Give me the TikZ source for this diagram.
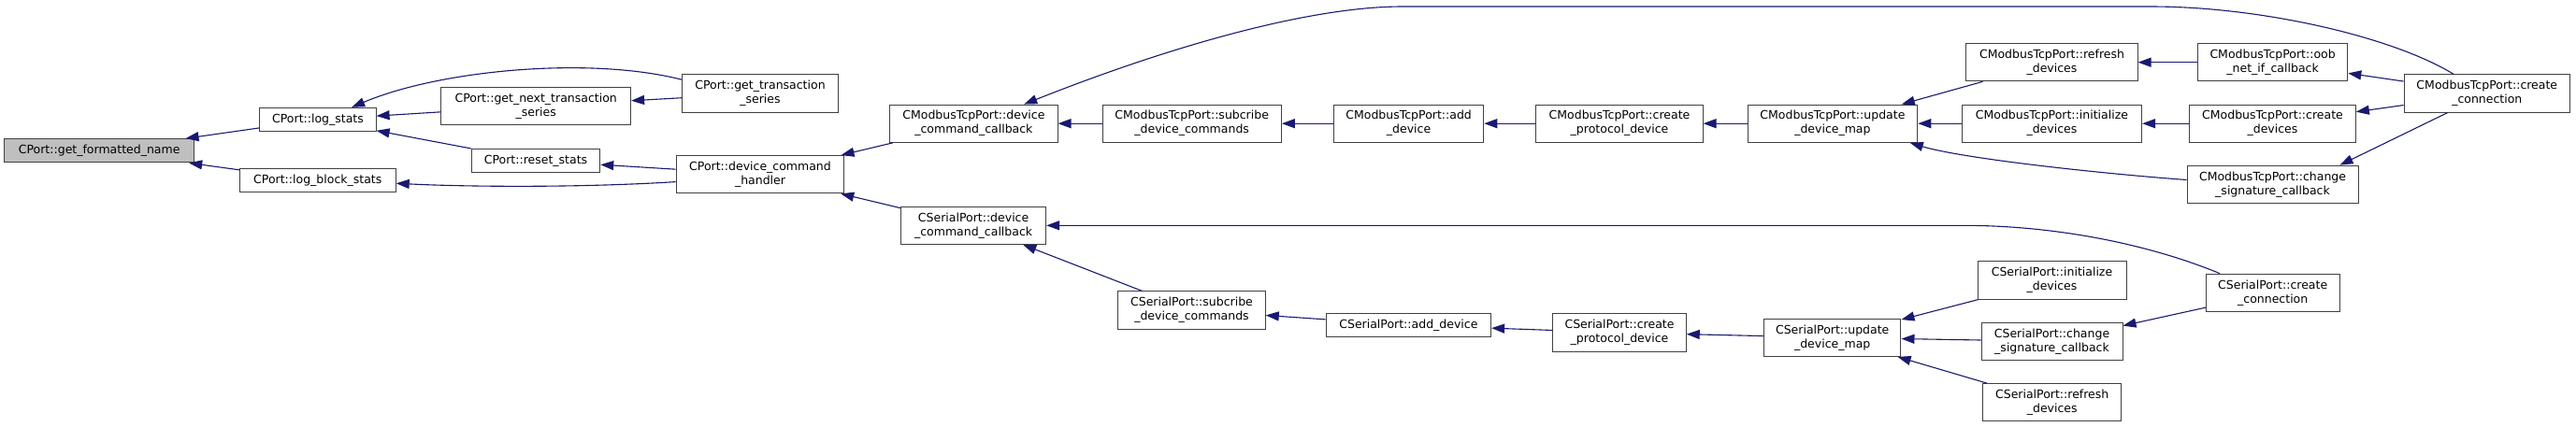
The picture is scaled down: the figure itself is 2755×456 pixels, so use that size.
\documentclass[tikz,border=0pt]{standalone}
\usepackage{fontspec}
\setmainfont{DejaVu Sans}
\usetikzlibrary{arrows.meta}
\definecolor{edgecol}{HTML}{191970}
\definecolor{bordercol}{HTML}{404040}
\definecolor{rootfill}{HTML}{BFBFBF}
\begin{document}
\begin{tikzpicture}[x=1pt,y=-1pt,
  box/.style={draw=bordercol, line width=1pt, fill=white, inner sep=0pt, align=center,
    font=\fontsize{12.5}{15}\selectfont},
  one/.style={box, minimum height=25.3pt},
  two/.style={box, minimum height=40.3pt},
  edge/.style={draw=edgecol, line width=1.1pt, -{Triangle[length=14pt,width=10pt]}}]
\fill[white] (0,0) rectangle (2755,456);
\useasboundingbox (0,0) rectangle (2755,456);

% column 1-3
\node[one, fill=rootfill, minimum width=202.5pt] (gfn) at (106.2,161.3) {CPort::get\_formatted\_name};
\node[one, minimum width=124.2pt] (logstats) at (340,128) {CPort::log\_stats};
\node[one, minimum width=166.8pt] (logblock) at (339.8,193.3) {CPort::log\_block\_stats};
\node[two, minimum width=202.8pt] (getnext) at (573.2,113.5) {CPort::get\_next\_transaction\\\_series};
\node[one, minimum width=137.5pt] (resetstats) at (573,172) {CPort::reset\_stats};
\node[two, minimum width=166.8pt] (gts) at (813,100) {CPort::get\_transaction\\\_series};
\node[two, minimum width=179.7pt] (dch) at (813,186.7) {CPort::device\_command\\\_handler};
\node[two, minimum width=179.2pt] (mdcc) at (1041.4,132.2) {CModbusTcpPort::device\\\_command\_callback};
\node[two, minimum width=155pt] (sdcc) at (1041.1,241.3) {CSerialPort::device\\\_command\_callback};

% Modbus chain
\node[two, minimum width=191.4pt] (msub) at (1274.7,132.2) {CModbusTcpPort::subcribe\\\_device\_commands};
\node[two, minimum width=160.4pt] (madd) at (1506.6,132.2) {CModbusTcpPort::add\\\_device};
\node[two, minimum width=178.1pt] (mcpd) at (1732,132.2) {CModbusTcpPort::create\\\_protocol\_device};
\node[two, minimum width=181.7pt] (mudm) at (1959.9,132.2) {CModbusTcpPort::update\\\_device\_map};
\node[two, minimum width=183.1pt] (mref) at (2194.5,66.7) {CModbusTcpPort::refresh\\\_devices};
\node[two, minimum width=192.4pt] (minit) at (2194.4,132.2) {CModbusTcpPort::initialize\\\_devices};
\node[two, minimum width=160.4pt] (moob) at (2430.6,66.7) {CModbusTcpPort::oob\\\_net\_if\_callback};
\node[two, minimum width=177.7pt] (mcdev) at (2430.5,132.2) {CModbusTcpPort::create\\\_devices};
\node[two, minimum width=183pt] (mcsig) at (2430.5,197.3) {CModbusTcpPort::change\\\_signature\_callback};
\node[two, minimum width=177.6pt] (mconn) at (2659.8,100) {CModbusTcpPort::create\\\_connection};

% Serial chain
\node[two, minimum width=157.5pt] (ssub) at (1274.5,332) {CSerialPort::subcribe\\\_device\_commands};
\node[one, minimum width=176.4pt] (sadd) at (1506.4,348) {CSerialPort::add\_device};
\node[two, minimum width=142.5pt] (scpd) at (1732,356) {CSerialPort::create\\\_protocol\_device};
\node[two, minimum width=146.5pt] (sudm) at (1959.7,361.3) {CSerialPort::update\\\_device\_map};
\node[two, minimum width=159pt] (sinit) at (2194.5,300) {CSerialPort::initialize\\\_devices};
\node[two, minimum width=151pt] (scsig) at (2194.5,365.3) {CSerialPort::change\\\_signature\_callback};
\node[two, minimum width=148pt] (sref) at (2194.7,430.7) {CSerialPort::refresh\\\_devices};
\node[two, minimum width=142.7pt] (sconn) at (2430.7,313.3) {CSerialPort::create\\\_connection};

% edges (caller -> callee)
\draw[edge] (logstats) -- (gfn);
\draw[edge] (logblock) -- (gfn);
\draw[edge] (getnext) -- (logstats);
\draw[edge] (resetstats) -- (logstats);
\draw[edge] (gts.170) .. controls (630,60) and (470,75) .. (logstats.20);
\draw[edge] (gts) -- (getnext);
\draw[edge] (dch) -- (resetstats);
\draw[edge] (dch.185) .. controls (620,201) and (500,200) .. (logblock.-2);
\draw[edge] (mdcc) -- (dch);
\draw[edge] (sdcc) -- (dch);

\draw[edge] (msub) -- (mdcc);
\draw[edge] (mconn.150) .. controls (2560,40) and (2420,7) .. (2300,7) -- (1500,7)
  .. controls (1400,7) and (1250,50) .. (mdcc.21);
\draw[edge] (madd) -- (msub);
\draw[edge] (mcpd) -- (madd);
\draw[edge] (mudm) -- (mcpd);
\draw[edge] (mref) -- (mudm);
\draw[edge] (minit) -- (mudm);
\draw[edge] (mcsig.177) .. controls (2250,186) and (2100,170) .. (mudm.-14);
\draw[edge] (moob) -- (mref);
\draw[edge] (mcdev) -- (minit);
\draw[edge] (mconn) -- (moob);
\draw[edge] (mconn) -- (mcdev);
\draw[edge] (mconn.206) -- (mcsig.16);

\draw[edge] (sconn.160) .. controls (2300,262) and (2200,241.3) .. (2100,241.3) -- (sdcc.east);
\draw[edge] (ssub) -- (sdcc);
\draw[edge] (sadd) -- (ssub);
\draw[edge] (scpd) -- (sadd);
\draw[edge] (sudm) -- (scpd);
\draw[edge] (sinit) -- (sudm);
\draw[edge] (scsig) -- (sudm);
\draw[edge] (sref) -- (sudm);
\draw[edge] (sconn) -- (scsig);
\end{tikzpicture}
\end{document}
